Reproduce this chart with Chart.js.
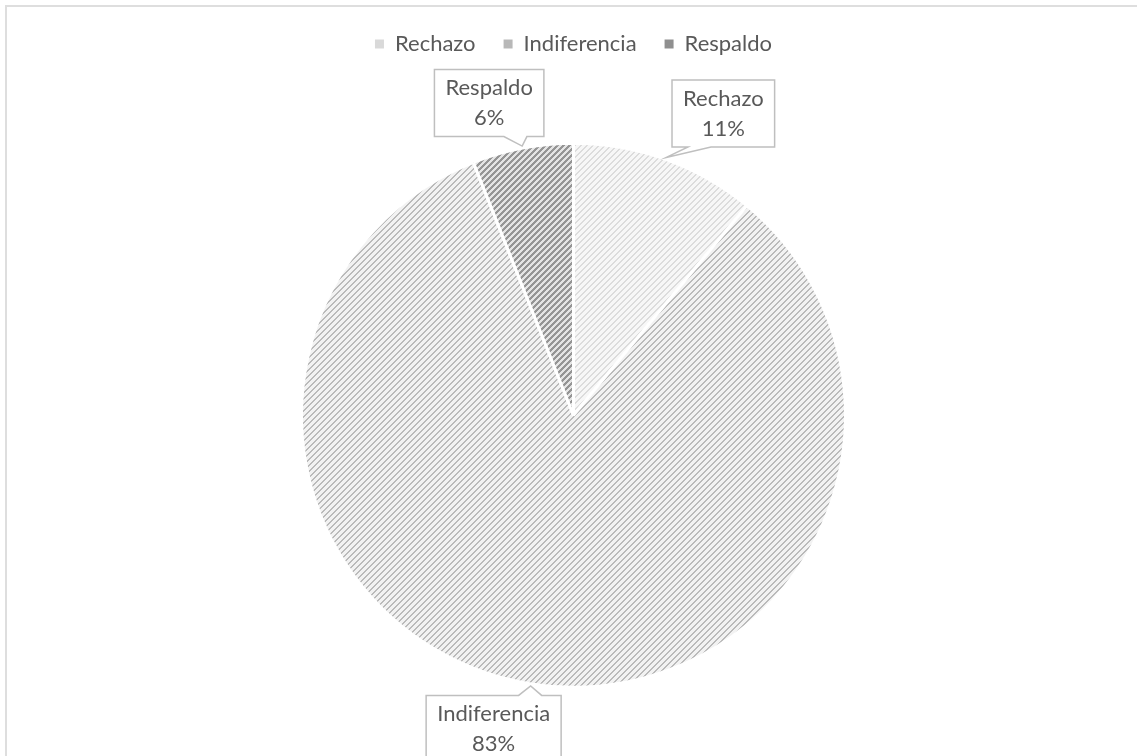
<!DOCTYPE html>
<html>
<head>
<meta charset="utf-8">
<script src="https://cdn.jsdelivr.net/npm/chart.js@4/dist/chart.umd.min.js"></script>
<style>
  html, body { margin: 0; padding: 0; background: #fff; overflow: hidden; }
  #wrap { position: relative; width: 1137px; height: 756px; overflow: hidden; }
  #frame { position: absolute; left: 5px; top: 5px; width: 1200px; height: 800px; border: 2px solid #dedede; }
  #pie-chart { position: absolute; left: 0; top: 0; }
</style>
</head>
<body>
<div id="wrap">
  <div id="frame"></div>
  <canvas id="pie-chart" width="1137" height="776"></canvas>
</div>
<script>
// Survey answers, share of responses in %
const categories = ['Rechazo', 'Indiferencia', 'Respaldo'];
const shares = [11, 83, 6];

const FONT = 'Lato, "Noto Sans", sans-serif';
const TEXT_COLOR = '#595959';

// Hatched fills: diagonal stripes on a light ground
const makePattern = (ground, stripe, size, thick) => {
    const c = document.createElement('canvas');
    c.width = size;
    c.height = size;
    const g = c.getContext('2d');
    g.fillStyle = ground;
    g.fillRect(0, 0, size, size);
    g.fillStyle = stripe;
    for (let i = 0; i < size; i++) {
        for (let t = 0; t < thick; t++) {
            g.fillRect(i, (size - 1 - i + t) % size, 1, 1);
        }
    }
    return g.createPattern(c, 'repeat');
};

const fills = [
    makePattern('#f7f7f7', '#dcdcdc', 6, 2),
    makePattern('#f2f2f2', '#bababa', 6, 2),
    makePattern('#e4e4e4', '#959595', 6, 3)
];
// flat tones for the small legend squares
const legendTones = ['#d9d9d9', '#b8b8b8', '#8f8f8f'];

// Where each callout box sits relative to the point it points at
const calloutLayout = [
    { dx: 57, dy: -44 },
    { dx: -37, dy: 43 },
    { dx: -33, dy: -43 }
];

const calloutPlugin = {
    id: 'callouts',
    afterDatasetsDraw(chart) {
        const ctx = chart.ctx;
        const meta = chart.getDatasetMeta(0);
        const total = shares.reduce((a, b) => a + b, 0);
        const lineH = 30;
        const padX = 11;
        const padY = 3.5;

        meta.data.forEach((arc, i) => {
            const p = arc.getProps(['x', 'y', 'startAngle', 'endAngle', 'outerRadius'], true);
            const cfg = calloutLayout[i];
            const a = (p.startAngle + p.endAngle) / 2;
            const tipX = p.x + Math.cos(a) * (p.outerRadius + 2);
            const tipY = p.y + Math.sin(a) * (p.outerRadius + 2);

            const lines = [categories[i], Math.round(shares[i] / total * 100) + '%'];
            ctx.save();
            ctx.font = '22px ' + FONT;
            const w = Math.max(...lines.map(l => ctx.measureText(l).width)) + padX * 2;
            const h = lines.length * lineH + padY * 2;
            const cx = tipX + cfg.dx;
            const cy = tipY + cfg.dy;
            const left = cx - w / 2, right = cx + w / 2;
            const top = cy - h / 2, bottom = cy + h / 2;

            const bc = Math.min(Math.max(tipX, left + 28), right - 28);
            const baseL = bc - 12, baseR = bc + 11;

            ctx.beginPath();
            if (tipY > bottom) {
                ctx.moveTo(left, top);
                ctx.lineTo(right, top);
                ctx.lineTo(right, bottom);
                ctx.lineTo(baseR, bottom);
                ctx.lineTo(tipX, tipY);
                ctx.lineTo(baseL, bottom);
                ctx.lineTo(left, bottom);
            } else {
                ctx.moveTo(left, top);
                ctx.lineTo(baseL, top);
                ctx.lineTo(tipX, tipY);
                ctx.lineTo(baseR, top);
                ctx.lineTo(right, top);
                ctx.lineTo(right, bottom);
                ctx.lineTo(left, bottom);
            }
            ctx.closePath();
            ctx.fillStyle = '#ffffff';
            ctx.fill();
            ctx.lineWidth = 1.5;
            ctx.strokeStyle = '#bfbfbf';
            ctx.stroke();

            ctx.fillStyle = TEXT_COLOR;
            ctx.textAlign = 'center';
            ctx.textBaseline = 'middle';
            lines.forEach((l, k) => {
                ctx.fillText(l, cx, top + padY + lineH * (k + 0.5));
            });
            ctx.restore();
        });
    }
};

const ctx = document.getElementById('pie-chart').getContext('2d');
const pieChart = new Chart(ctx, {
    type: 'pie',
    data: {
        labels: categories,
        datasets: [{
            data: shares,
            backgroundColor: fills,
            borderColor: '#ffffff',
            borderWidth: 3,
            radius: 272
        }]
    },
    options: {
        responsive: false,
        animation: false,
        layout: {
            padding: { top: 5, left: 10, right: 0, bottom: 10.5 }
        },
        plugins: {
            legend: {
                position: 'top',
                labels: {
                    font: { family: FONT, size: 22 },
                    color: TEXT_COLOR,
                    boxWidth: 9,
                    boxHeight: 9,
                    padding: 28,
                    generateLabels: (chart) => {
                        const items = Chart.overrides.pie.plugins.legend.labels.generateLabels(chart);
                        return items.map((it, i) => Object.assign(it, {
                            fillStyle: legendTones[i],
                            lineWidth: 0,
                            strokeStyle: 'rgba(0,0,0,0)'
                        }));
                    }
                }
            },
            tooltip: { enabled: false }
        }
    },
    plugins: [calloutPlugin]
});
</script>
</body>
</html>
